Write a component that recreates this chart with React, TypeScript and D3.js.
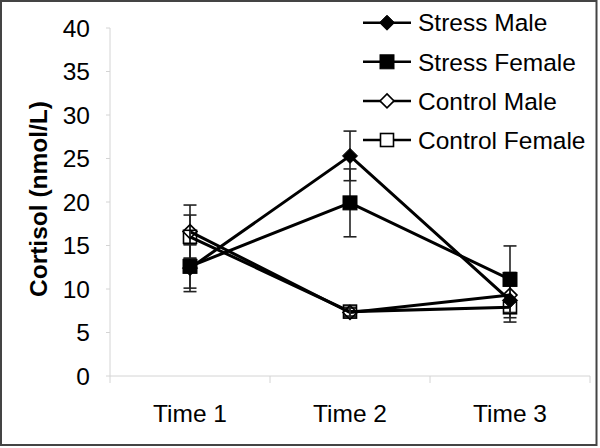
import React from "react";
import * as d3 from "d3";

const categories = ["Time 1", "Time 2", "Time 3"];
const seriesNames = ["Stress Male", "Stress Female", "Control Male", "Control Female"];
const stressMale = [12.4, 25.3, 8.7];
const stressMaleErr = [2.7, 2.85, 2.5];
const stressFemale = [12.6, 19.9, 11.1];
const stressFemaleErr = [2.5, 3.9, 3.85];
const controlMale = [16.6, 7.3, 9.3];
const controlMaleErr = [3.05, 0.5, 2.6];
const controlFemale = [16.0, 7.4, 7.9];
const controlFemaleErr = [2.5, 0.5, 0.6];
const yTicks = [0, 5, 10, 15, 20, 25, 30, 35, 40];

const FONT = "'Liberation Sans', Arial, sans-serif";
const FS = 24.5;

type Series = { name: string; values: number[]; errs: number[]; shape: "diamond" | "square"; filled: boolean };

const series: Series[] = [
  { name: seriesNames[0], values: stressMale, errs: stressMaleErr, shape: "diamond", filled: true },
  { name: seriesNames[1], values: stressFemale, errs: stressFemaleErr, shape: "square", filled: true },
  { name: seriesNames[2], values: controlMale, errs: controlMaleErr, shape: "diamond", filled: false },
  { name: seriesNames[3], values: controlFemale, errs: controlFemaleErr, shape: "square", filled: false },
];

function Marker({ x, y, shape, filled, legend }: { x: number; y: number; shape: string; filled: boolean; legend?: boolean }) {
  const fill = filled ? "#000" : legend ? "#fff" : "none";
  const sw = filled ? 1 : 1.6;
  if (shape === "diamond") {
    const r = filled ? 7.5 : 7;
    const d = `M${x},${y - r}L${x + r},${y}L${x},${y + r}L${x - r},${y}Z`;
    return <path d={d} fill={fill} stroke="#000" strokeWidth={sw} />;
  }
  const s = filled ? 14 : 13;
  return <rect x={x - s / 2} y={y - s / 2} width={s} height={s} fill={fill} stroke="#000" strokeWidth={sw} />;
}

export default function App() {
  const W = 600, H = 448;
  const x0 = 110, x1 = 590, yTop = 28, yBot = 376;
  const xBand = d3.scaleBand<string>().domain(categories).range([x0, x1]).padding(0);
  const xc = (i: number) => (xBand(categories[i]) as number) + xBand.bandwidth() / 2;
  const y = d3.scaleLinear().domain([0, 40]).range([yBot, yTop]);
  const line = d3.line<number>().x((_, i) => xc(i)).y((v) => y(v));
  const axisColor = "#d4d4d4";
  const capW = 6.5;

  return (
    <svg width={W} height={H} style={{ position: "absolute", left: 0, top: 0, background: "#fff" }} fontFamily={FONT}>
      <rect x={0} y={0} width={W} height={H} fill="#fff" />
      <line x1={x0} x2={x0} y1={yTop} y2={yBot} stroke={axisColor} strokeWidth={1} />
      <line x1={x0} x2={x1} y1={yBot} y2={yBot} stroke={axisColor} strokeWidth={1} />
      {yTicks.map((t) => (
        <g key={t}>
          <line x1={x0 - 4} x2={x0} y1={y(t)} y2={y(t)} stroke={axisColor} />
          <text x={90} y={y(t) + 8.7} textAnchor="end" fontSize={FS} fill="#000">{t}</text>
        </g>
      ))}
      {[...categories.map((c) => xBand(c) as number), x1].map((t, i) => (
        <line key={i} x1={t} x2={t} y1={yBot} y2={yBot + 7} stroke={axisColor} />
      ))}
      {categories.map((c, i) => (
        <text key={c} x={xc(i)} y={422} textAnchor="middle" fontSize={FS} fill="#000">{c}</text>
      ))}
      <text transform={`translate(47,199) rotate(-90)`} textAnchor="middle" fontSize={FS} fontWeight="bold" fill="#000">Cortisol (nmol/L)</text>

      {series.map((s) => (
        <path key={s.name + "l"} d={line(s.values) || ""} fill="none" stroke="#000" strokeWidth={3} />
      ))}
      {series.map((s) =>
        s.values.map((v, i) => {
          const cx = xc(i);
          const hi = y(v + s.errs[i]);
          const lo = y(v - s.errs[i]);
          return (
            <g key={s.name + "e" + i} stroke="#222" strokeWidth={1.6}>
              <line x1={cx} x2={cx} y1={hi} y2={lo} />
              <line x1={cx - capW} x2={cx + capW} y1={hi} y2={hi} />
              <line x1={cx - capW} x2={cx + capW} y1={lo} y2={lo} />
            </g>
          );
        })
      )}
      {series.map((s) =>
        s.values.map((v, i) => (
          <Marker key={s.name + "m" + i} x={xc(i)} y={y(v)} shape={s.shape} filled={s.filled} />
        ))
      )}

      {series.map((s, i) => {
        const ly = 22.7 + i * 39.1;
        return (
          <g key={s.name + "lg"}>
            <line x1={363} x2={411} y1={ly} y2={ly} stroke="#000" strokeWidth={2.5} />
            <Marker x={387} y={ly} shape={s.shape} filled={s.filled} legend />
            <text x={418} y={ly + 8.7} fontSize={FS} fill="#000">{s.name}</text>
          </g>
        );
      })}

      <rect x={1} y={1} width={595.5} height={444} fill="none" stroke="#444" strokeWidth={2} />
    </svg>
  );
}
